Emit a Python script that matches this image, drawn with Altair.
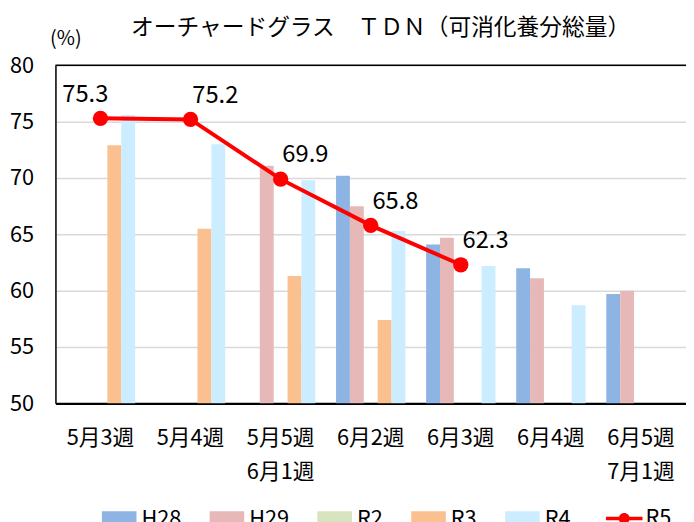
import altair as alt
import pandas as pd

FONT = "Noto Sans CJK JP"

categories = ["5月3週", "5月4週", "5月5週\n6月1週", "6月2週", "6月3週", "6月4週", "6月5週\n7月1週"]
series = ["H28", "H29", "R2", "R3", "R4"]
bar_colors = ["#8EB4E3", "#E6B9B8", "#D7E4BD", "#FAC090", "#CCECFF"]

H28 = [None, None, None, 70.2, 64.1, 62.0, 59.7]
H29 = [None, None, 71.1, 67.5, 64.7, 61.1, 60.0]
R2 = [None, None, None, None, None, None, None]
R3 = [72.9, 65.5, 61.3, 57.4, None, None, None]
R4 = [75.6, 73.0, 69.8, 65.3, 62.2, 58.7, None]
R5 = [75.3, 75.2, 69.9, 65.8, 62.3, None, None]
y_ticks = [50, 55, 60, 65, 70, 75, 80]
title_text = "オーチャードグラス　ＴＤＮ（可消化養分総量）"

rows = []
for name, vals in zip(series, [H28, H29, R2, R3, R4]):
    for c, v in zip(categories, vals):
        if v is not None:
            rows.append({"cat": c, "series": name, "value": v})
bars_df = pd.DataFrame(rows)

line_rows = []
for i, (c, v) in enumerate(zip(categories, R5)):
    if v is not None:
        line_rows.append({"cat": c, "series": "R5", "value": v, "idx": i})
line_df = pd.DataFrame(line_rows)

top_df = pd.DataFrame({"value": [y_ticks[-1]]})

BAR_SYM = "M-1,-0.43L1,-0.43L1,0.43L-1,0.43Z"
LINE_SYM = ("M-1,-0.1L1,-0.1L1,0.1L-1,0.1Z "
            "M-0.3,0A0.3 0.3 0 1 1 0.3,0A0.3 0.3 0 1 1 -0.3,0Z")

X = alt.X(
    "cat:N",
    scale=alt.Scale(domain=categories, paddingInner=0.23, paddingOuter=0.115),
    axis=alt.Axis(
        title=None,
        labelExpr="split(datum.label, '\\n')",
        labelAngle=0,
        labelFontSize=22,
        labelFont=FONT,
        labelColor="#000000",
        labelPadding=25,
        labelLineHeight=34,
        domainColor="#000000",
        domainWidth=2.5,
        ticks=False,
        tickSize=0,
        grid=False,
    ),
)

Y = alt.Y(
    "value:Q",
    scale=alt.Scale(domain=[50, 80], zero=False, nice=False),
    axis=alt.Axis(
        values=y_ticks,
        title="(%)",
        titleAngle=0,
        titleX=10,
        titleY=-27,
        titleAlign="center",
        titleBaseline="middle",
        titleFontSize=20,
        titleFontWeight="normal",
        titleFont=FONT,
        titleColor="#000000",
        labelFontSize=22,
        labelFont=FONT,
        labelColor="#000000",
        labelPadding=22,
        ticks=False,
        tickSize=0,
        domainColor="#000000",
        domainWidth=1.5,
        gridColor="#D9D9D9",
        gridWidth=1.5,
    ),
)

bars = alt.Chart(bars_df).mark_bar().encode(
    x=X,
    xOffset=alt.XOffset("series:N", scale=alt.Scale(domain=series, paddingInner=0, paddingOuter=0)),
    y=Y,
    y2=alt.datum(50),
    fill=alt.Fill(
        "series:N",
        scale=alt.Scale(domain=series, range=bar_colors),
        legend=alt.Legend(
            title=None,
            orient="none",
            legendX=47,
            legendY=441,
            direction="horizontal",
            symbolType=BAR_SYM,
            symbolSize=1225,
            symbolStrokeWidth=0,
            labelFontSize=22,
            labelFont=FONT,
            labelColor="#000000",
            labelOffset=5,
            columnPadding=28,
            padding=0,
        ),
    ),
)

top_rule = alt.Chart(top_df).mark_rule(color="#000000", strokeWidth=1.5).encode(y=Y)

line = alt.Chart(line_df).mark_line(color="#FF0000", strokeWidth=4).encode(x=X, y=Y)

points = alt.Chart(line_df).mark_circle(size=240, opacity=1).encode(
    x=X,
    y=Y,
    color=alt.Color(
        "series:N",
        scale=alt.Scale(domain=["R5"], range=["#FF0000"]),
        legend=alt.Legend(
            title=None,
            orient="none",
            legendX=557,
            legendY=440,
            direction="horizontal",
            symbolType=LINE_SYM,
            symbolSize=1369,
            symbolStrokeWidth=0,
            symbolOpacity=1,
            labelFontSize=22,
            labelFont=FONT,
            labelColor="#000000",
            labelOffset=3,
            padding=0,
        ),
    ),
)

text_first = alt.Chart(line_df).transform_filter("datum.idx == 0").mark_text(
    fontSize=24, font=FONT, color="#000000", align="right", dx=8, dy=-24
).encode(x=X, y=Y, text=alt.Text("value:Q", format=".1f"))

text_rest = alt.Chart(line_df).transform_filter("datum.idx > 0").mark_text(
    fontSize=24, font=FONT, color="#000000", align="center", dx=25, dy=-24
).encode(x=X, y=Y, text=alt.Text("value:Q", format=".1f"))

chart = alt.layer(bars, top_rule, line, points, text_first, text_rest).properties(
    width=638,
    height=342,
    title=alt.Title(
        title_text,
        fontSize=23,
        fontWeight="normal",
        font=FONT,
        color="#000000",
        anchor="middle",
        frame="group",
        offset=0,
        dx=10,
        dy=11,
    ),
    autosize=alt.AutoSizeParams(type="none"),
    padding={"left": 48, "top": 55, "right": 0, "bottom": 117},
).configure_view(stroke=None).configure(font=FONT)

chart.save("out.html", embed_options={"renderer": "svg", "actions": False})
